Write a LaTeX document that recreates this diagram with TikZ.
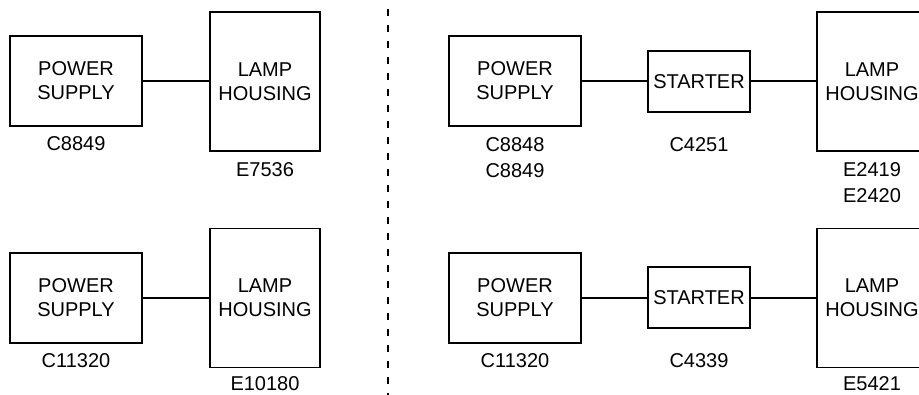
\documentclass[tikz,border=0pt]{standalone}
\usepackage{fontspec}
\setmainfont{Liberation Sans}
\begin{document}
\begin{tikzpicture}[x=1pt,y=-1pt,
  blk/.style={draw,line width=1.7pt,inner sep=0pt,align=center,
    font=\fontsize{20}{24}\selectfont},
  psbox/.style={blk,minimum width=132pt,minimum height=90pt},
  lampbox/.style={blk,minimum width=110pt,minimum height=139pt},
  stbox/.style={blk,minimum width=102pt,minimum height=61pt},
  lbl/.style={anchor=base,inner sep=0pt,font=\fontsize{20}{24}\selectfont},
  wire/.style={line width=1.7pt},
  divider/.style={line width=1.8pt,dash pattern=on 7pt off 9pt}]
\useasboundingbox (0,0) rectangle (919,394);
\clip (0,0) rectangle (919,394);
% top left
\node[psbox] (ps1) at (76,81) {POWER\\SUPPLY};
\node[lampbox] (lh1) at (265,81.5) {LAMP\\HOUSING};
\draw[wire] (ps1.east) -- (lh1.west |- ps1.east);
\node[lbl] (c1) at (76,150) {C8849};
\node[lbl] (e1) at (265,176) {E7536};
% bottom left
\node[psbox] (ps2) at (76,298) {POWER\\SUPPLY};
\node[lampbox] (lh2) at (265,298) {LAMP\\HOUSING};
\draw[wire] (ps2.east) -- (lh2.west |- ps2.east);
\node[lbl] (c2) at (76,367) {C11320};
\node[lbl] (e2) at (265,390.5) {E10180};
% divider
\coordinate (d1) at (388,9);
\coordinate (d2) at (388,400);
\draw[divider] (d1) -- (d2);
% top right
\node[psbox] (ps3) at (515,81) {POWER\\SUPPLY};
\node[stbox] (st3) at (699,81.5) {STARTER};
\node[lampbox] (lh3) at (872,81.5) {LAMP\\HOUSING};
\draw[wire] (ps3.east) -- (st3.west |- ps3.east);
\draw[wire] (st3.east |- ps3.east) -- (lh3.west |- ps3.east);
\node[lbl] (c3a) at (515,151) {C8848};
\node[lbl] (c3b) at (515,177) {C8849};
\node[lbl] (s3) at (699,151) {C4251};
\node[lbl] (e3a) at (872,176.5) {E2419};
\node[lbl] (e3b) at (872,202.5) {E2420};
% bottom right
\node[psbox] (ps4) at (515,298) {POWER\\SUPPLY};
\node[stbox] (st4) at (699,297.5) {STARTER};
\node[lampbox] (lh4) at (872,298) {LAMP\\HOUSING};
\draw[wire] (ps4.east) -- (st4.west |- ps4.east);
\draw[wire] (st4.east |- ps4.east) -- (lh4.west |- ps4.east);
\node[lbl] (c4) at (515,367) {C11320};
\node[lbl] (s4) at (699,367) {C4339};
\node[lbl] (e4) at (872,390.5) {E5421};
\end{tikzpicture}
\end{document}
